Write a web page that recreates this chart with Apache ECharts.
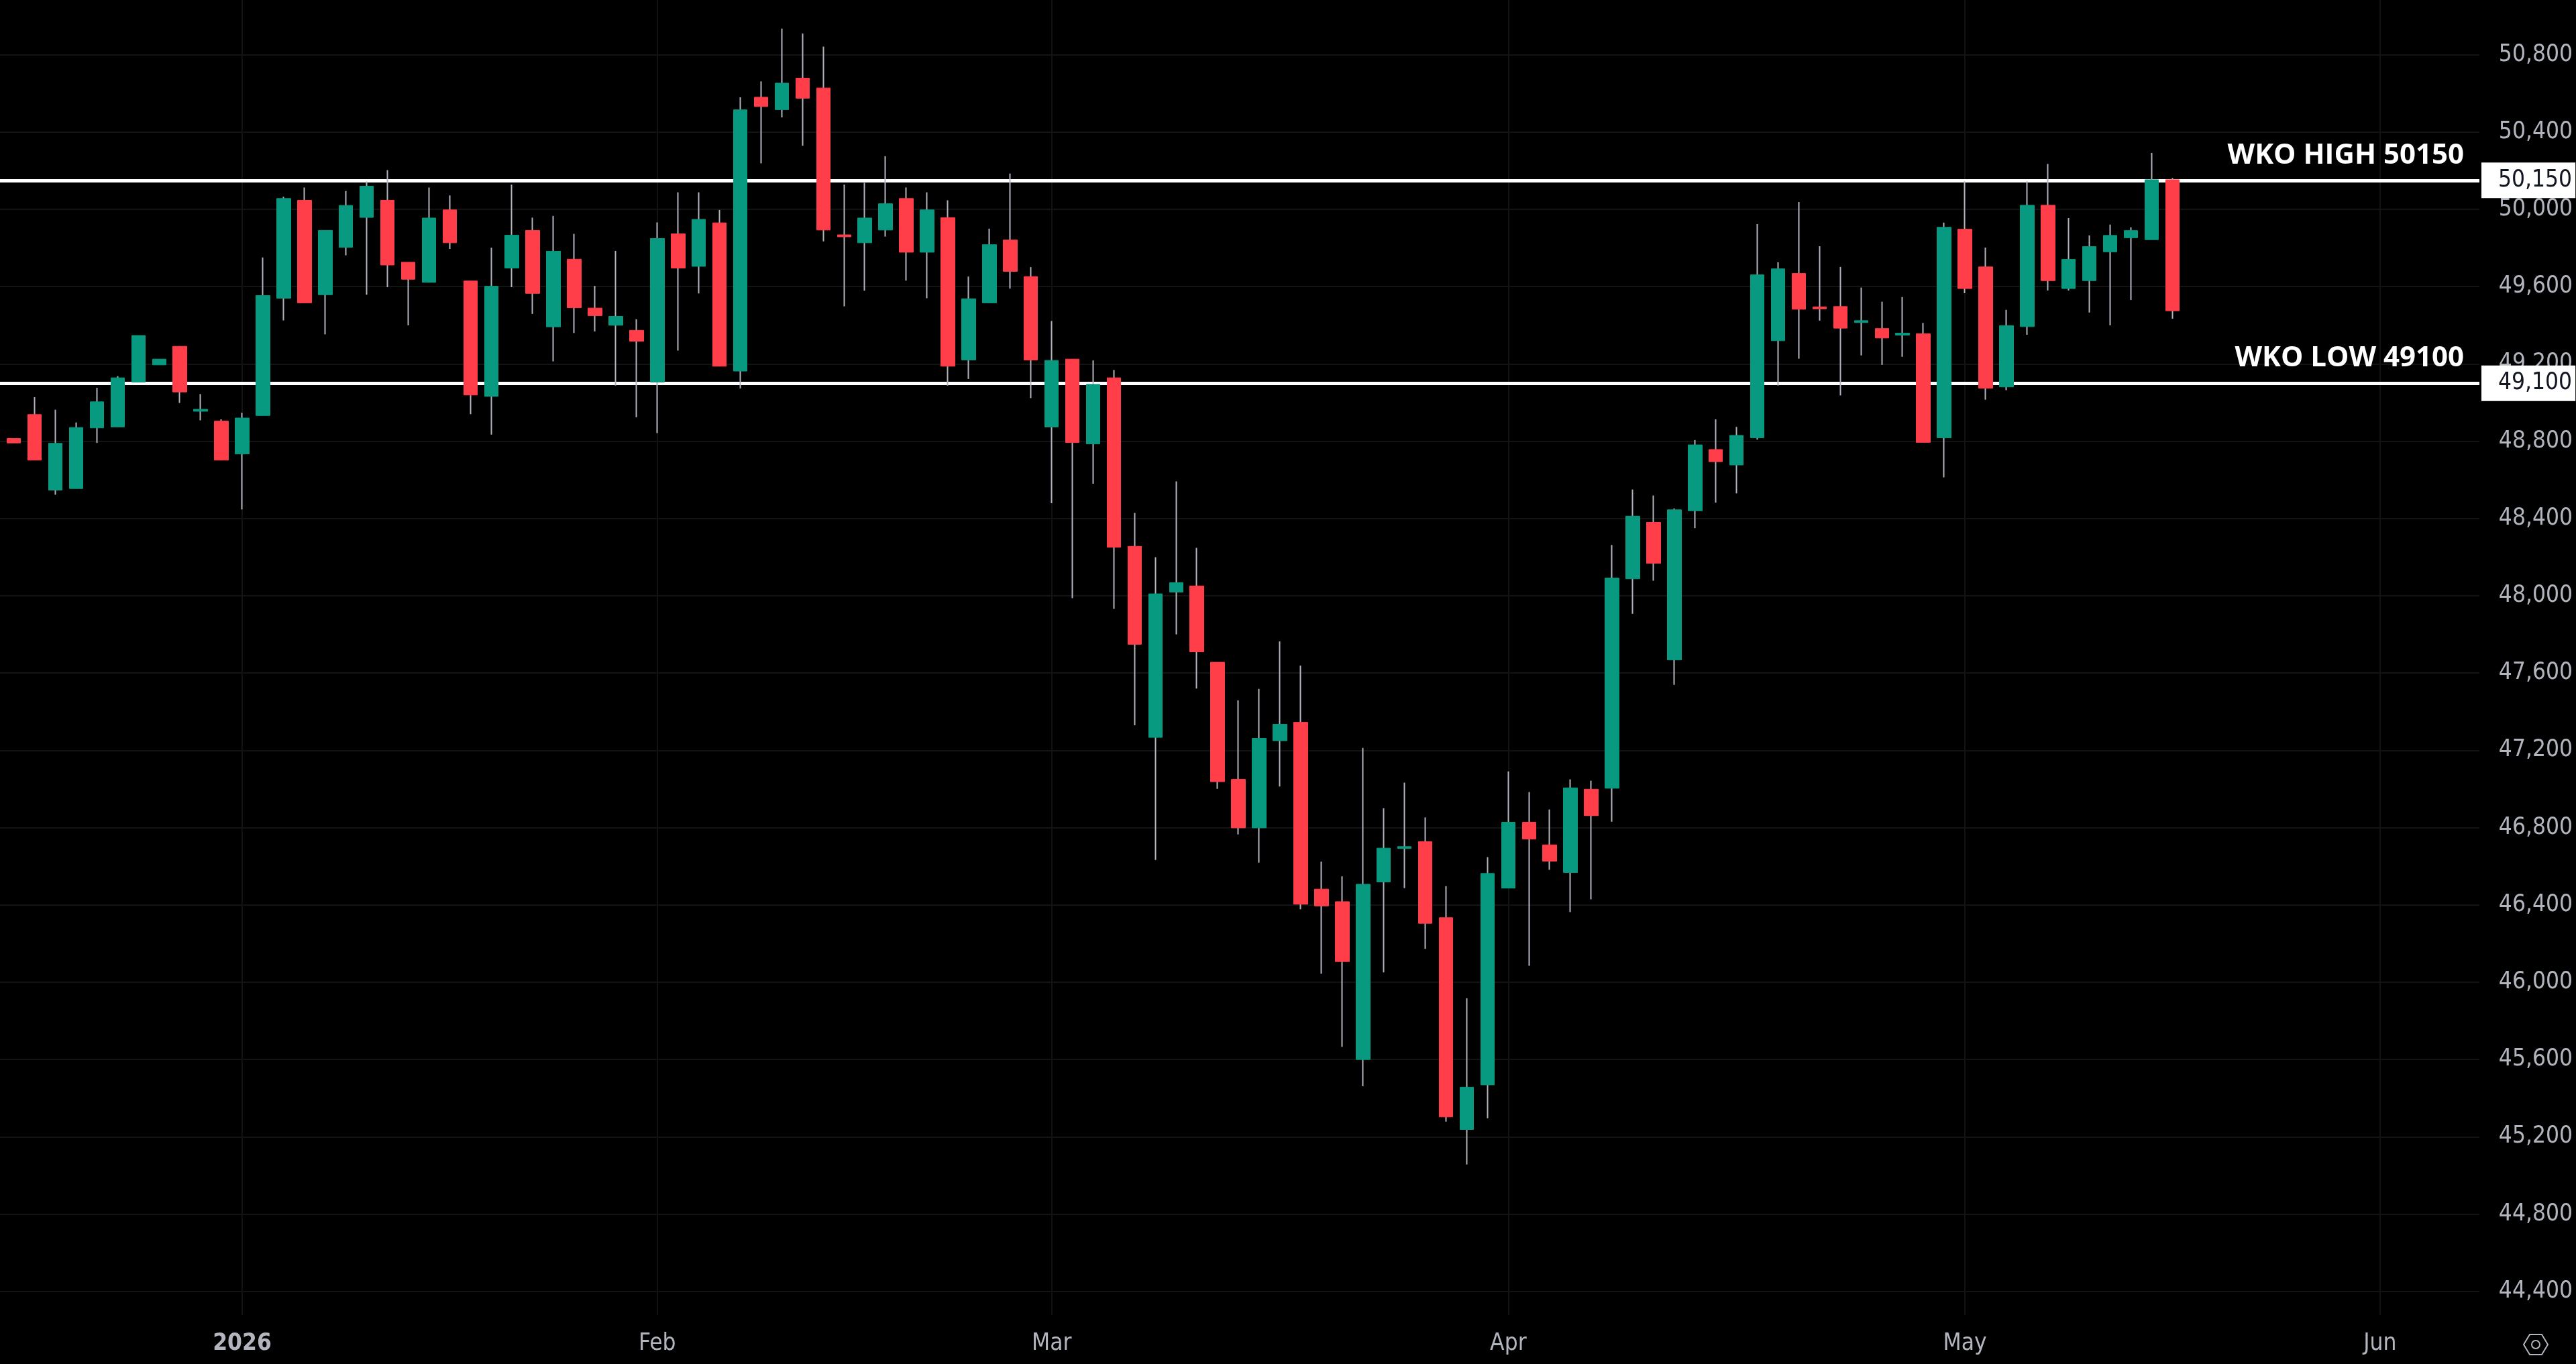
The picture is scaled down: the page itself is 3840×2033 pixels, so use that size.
<!DOCTYPE html>
<html>
<head>
<meta charset="utf-8">
<title>WKO levels</title>
<script src="https://cdn.jsdelivr.net/npm/echarts@6/dist/echarts.min.js"></script>
<style>
html, body { margin: 0; height: 100%; background: #000; }
#chart { width: 100vw; height: 100vh; }
</style>
</head>
<body>
<div id="chart"></div>
<script>
var opens = [
    48814, 48938, 48547, 48555, 48869, 48874, 49106, 49195, 49291, 48955,
    48904, 48734, 48933, 49540, 50047, 49558, 49803, 49958, 50047, 49726,
    49622, 49997, 49629, 49032, 49696, 49891, 49392, 49742, 49489, 49400,
    49374, 49106, 49873, 49705, 49930, 49163, 50580, 50516, 50679, 50628,
    49868, 49827, 49893, 50056, 49778, 49957, 49220, 49516, 49841, 49652,
    48874, 49225, 48786, 49128, 48256, 47267, 48019, 48051, 47656, 47050,
    46799, 47250, 47345, 46482, 46417, 45600, 46519, 46692, 46728, 46334,
    45238, 45469, 46487, 46828, 46711, 46568, 46999, 47004, 48088, 48380,
    47668, 48440, 48757, 48677, 48818, 49320, 49668, 49495, 49497, 49414,
    49383, 49349, 49356, 48818, 49897, 49702, 49081, 49393, 50021, 49590,
    49631, 49780, 49853, 49843, 50153
];
var closes = [
    48791, 48702, 48789, 48871, 49004, 49128, 49347, 49225, 49055, 48965,
    48702, 48920, 49554, 50056, 49516, 49891, 50020, 50120, 49712, 49638,
    49955, 49827, 49039, 49602, 49866, 49565, 49783, 49491, 49450, 49446,
    49317, 49849, 49696, 49948, 49188, 50515, 50532, 50653, 50575, 49893,
    49858, 49955, 50029, 49778, 49997, 49188, 49537, 49817, 49679, 49220,
    49218, 48793, 49094, 48251, 47749, 48010, 48068, 47710, 47038, 46799,
    47262, 47335, 46404, 46395, 46107, 46507, 46694, 46702, 46305, 45303,
    45457, 46563, 46828, 46741, 46626, 47006, 46862, 48092, 48412, 48168,
    48445, 48781, 48694, 48830, 49661, 49692, 49483, 49485, 49385, 49424,
    49334, 49359, 48794, 49907, 49590, 49074, 49398, 50021, 49631, 49741,
    49807, 49865, 49890, 50153, 49475
];
var lows = [
    48791, 48702, 48523, 48555, 48791, 48874, 49106, 49195, 48998, 48908,
    48702, 48447, 48933, 49425, 49516, 49353, 49762, 49558, 49597, 49400,
    49622, 49795, 48940, 48834, 49597, 49459, 49213, 49360, 49368, 49088,
    48924, 48842, 49269, 49565, 49188, 49073, 50238, 50476, 50329, 49834,
    49498, 49579, 49859, 49631, 49540, 49088, 49122, 49516, 49590, 49023,
    48479, 47988, 48580, 47932, 47330, 46633, 47800, 47520, 47001, 46765,
    46619, 47013, 46378, 46044, 45666, 45462, 46051, 46487, 46173, 45279,
    45057, 45296, 46487, 46085, 46582, 46363, 46429, 46831, 47907, 48078,
    47539, 48350, 48482, 48530, 48808, 49088, 49227, 49424, 49037, 49244,
    49195, 49237, 48794, 48613, 49566, 49015, 49064, 49351, 49580, 49580,
    49466, 49400, 49531, 49843, 49434
];
var highs = [
    48814, 49028, 48963, 48897, 49076, 49137, 49347, 49225, 49291, 49044,
    48913, 48947, 49751, 50065, 50113, 49891, 50095, 50144, 50203, 49726,
    50113, 50072, 49629, 49801, 50128, 49957, 49966, 49873, 49604, 49785,
    49431, 49932, 50088, 50088, 49997, 50580, 50662, 50935, 50910, 50842,
    50128, 50137, 50275, 50113, 50088, 50047, 49652, 49900, 50185, 49701,
    49422, 49225, 49218, 49168, 48429, 48200, 48592, 48248, 47656, 47459,
    47518, 47764, 47639, 46624, 46548, 47213, 46901, 47033, 46853, 46497,
    45917, 46648, 47091, 46984, 46894, 47050, 47043, 48263, 48550, 48519,
    48452, 48806, 48913, 48874, 49924, 49726, 50038, 49809, 49702, 49595,
    49522, 49546, 49412, 49931, 50145, 49802, 49480, 50145, 50235, 49955,
    49865, 49921, 49907, 50292, 50162
];

var monthTicks = [11, 31, 50, 72, 94, 114];
var monthLabels = ['2026', 'Feb', 'Mar', 'Apr', 'May', 'Jun'];
var priceTicks = [
    44400, 44800, 45200, 45600, 46000, 46400, 46800, 47200, 47600,
    48000, 48400, 48800, 49200, 49600, 50000, 50400, 50800
];
var wkoHigh = 50150;
var wkoLow = 49100;

var axisFont = '"DejaVu Sans Condensed", "DejaVu Sans", sans-serif';
var axisColor = '#b2b5be';
var gridColor = '#131313';

function money(v) {
    return String(v).replace(/\B(?=(\d{3})+$)/g, ',');
}

// wicks come from one series, bodies from a second one on top, so the wick can stay grey
var wickData = opens.map(function (o, i) {
    return [i, o, closes[i], lows[i], highs[i]];
});
var bodyData = opens.map(function (o, i) {
    return [i, o, closes[i], Math.min(o, closes[i]), Math.max(o, closes[i])];
});

function levelLabel(value, text) {
    return {
        yAxis: value,
        label: {
            position: 'insideEndTop',
            distance: [23, 16],
            formatter: text,
            color: '#fff',
            fontFamily: '"Open Sans", sans-serif',
            fontWeight: 700,
            fontSize: 42
        }
    };
}
function levelTag(value) {
    return {
        yAxis: value,
        label: {
            position: 'end',
            distance: 3,
            formatter: money(value),
            color: '#131722',
            backgroundColor: '#fff',
            fontFamily: axisFont,
            fontSize: 35,
            align: 'left',
            padding: [11, 5, 7, 25]
        }
    };
}

var myChart = echarts.init(document.getElementById('chart'));
myChart.setOption({
    animation: false,
    backgroundColor: '#000',
    grid: { left: 0, top: 0, width: 3696, bottom: 73, containLabel: false },
    xAxis: {
        type: 'value',
        min: -0.669,
        max: 118.79,
        axisLine: { show: false },
        axisTick: { show: false, customValues: monthTicks },
        splitLine: { show: true, lineStyle: { color: gridColor, width: 2 } },
        axisLabel: {
            customValues: monthTicks,
            margin: 25,
            color: axisColor,
            fontFamily: axisFont,
            fontSize: 35,
            formatter: function (v) {
                var s = monthLabels[monthTicks.indexOf(v)];
                return s === '2026' ? '{y|' + s + '}' : s;
            },
            rich: {
                y: { color: axisColor, fontFamily: axisFont, fontSize: 35, fontWeight: 'bold' }
            }
        }
    },
    yAxis: {
        type: 'value',
        position: 'right',
        min: 44277.8,
        max: 51083.3,
        axisLine: { show: false },
        axisTick: { show: false, customValues: priceTicks },
        splitLine: { show: true, lineStyle: { color: gridColor, width: 2 } },
        axisLabel: {
            customValues: priceTicks,
            align: 'right',
            margin: 139,
            color: axisColor,
            fontFamily: axisFont,
            fontSize: 35,
            padding: [0, 0, 7, 0],
            formatter: function (v) { return money(v); }
        }
    },
    series: [
        {
            name: 'wick',
            type: 'candlestick',
            z: 2,
            barWidth: 1,
            encode: { x: 0, y: [1, 2, 3, 4] },
            itemStyle: {
                color: '#b2b5be', color0: '#b2b5be',
                borderColor: '#b2b5be', borderColor0: '#b2b5be', borderWidth: 2
            },
            data: wickData,
            markLine: {
                silent: true,
                z: 1,
                symbol: 'none',
                animation: false,
                lineStyle: { color: '#fff', width: 5, type: 'solid' },
                data: [
                    levelLabel(wkoHigh, 'WKO HIGH 50150'),
                    levelTag(wkoHigh),
                    levelLabel(wkoLow, 'WKO LOW 49100'),
                    levelTag(wkoLow)
                ]
            }
        },
        {
            name: 'body',
            type: 'candlestick',
            z: 3,
            barWidth: 21,
            encode: { x: 0, y: [1, 2, 3, 4] },
            itemStyle: {
                color: '#089981', color0: '#ff3e49',
                borderColor: '#089981', borderColor0: '#ff3e49', borderWidth: 1
            },
            data: bodyData
        }
    ],
    graphic: [
        {
            type: 'polygon',
            silent: true,
            shape: { points: [[3762, 2004], [3771, 1989], [3789, 1989], [3798, 2004], [3789, 2019], [3771, 2019]] },
            style: { fill: 'none', stroke: axisColor, lineWidth: 2 }
        },
        {
            type: 'circle',
            silent: true,
            shape: { cx: 3780, cy: 2004, r: 6 },
            style: { fill: 'none', stroke: axisColor, lineWidth: 2 }
        }
    ]
});
window.onresize = myChart.resize;
</script>
</body>
</html>
